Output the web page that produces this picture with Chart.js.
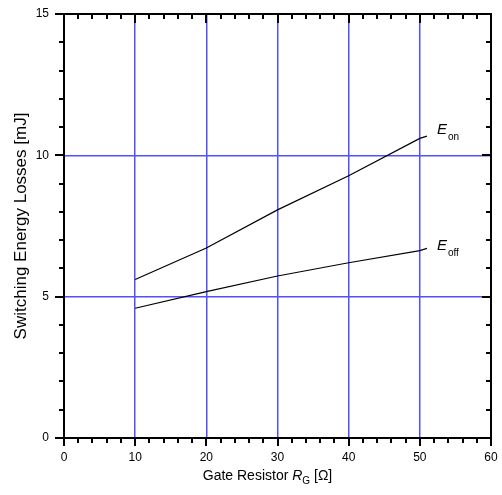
<!DOCTYPE html>
<html>
<head>
<meta charset="utf-8">
<script src="https://cdn.jsdelivr.net/npm/chart.js@4"></script>
<style>
  body { margin: 0; background: #fff; }
  #wrap { width: 502px; height: 495px; }
</style>
</head>
<body>
<div id="wrap"><canvas id="lossChart"></canvas></div>
<script>
// Data
const gateResistor = [10, 20, 30, 40, 50, 51];
const energyOn = [5.61, 6.72, 8.07, 9.28, 10.6, 10.68];
const energyOff = [4.59, 5.18, 5.73, 6.20, 6.63, 6.71];

// Axis ranges and tick spacing
const xTicks = [0, 10, 20, 30, 40, 50, 60];
const yTicks = [0, 5, 10, 15];
const xMinorStep = 2;
const yMinorStep = 1;

const FONT = '"Liberation Sans", Arial, Helvetica, sans-serif';
const GRID_BLUE = 'rgb(80, 80, 255)';

function toPoints(xs, ys) {
    return xs.map((x, i) => ({ x: x, y: ys[i] }));
}

// Frame, inner/outer tick marks, axis titles and curve labels
const decorPlugin = {
    id: 'decor',
    afterDraw(chart) {
        const ctx = chart.ctx;
        const area = chart.chartArea;
        const xs = chart.scales.x;
        const ys = chart.scales.y;
        ctx.save();
        ctx.strokeStyle = '#000';
        ctx.lineWidth = 2;

        // tick marks: bottom/left point out, top/right point in
        const xMin = xTicks[0], xMax = xTicks[xTicks.length - 1];
        const nx = Math.round((xMax - xMin) / xMinorStep);
        for (let i = 0; i <= nx; i++) {
            const v = xMin + i * xMinorStep;
            const px = Math.round(xs.getPixelForValue(v));
            const major = xTicks.includes(v);
            ctx.beginPath();
            ctx.moveTo(px, area.bottom);
            ctx.lineTo(px, area.bottom + (major ? 8 : 5));
            ctx.moveTo(px, area.top);
            ctx.lineTo(px, area.top + (major ? 9 : 5));
            ctx.stroke();
        }
        const yMin = yTicks[0], yMax = yTicks[yTicks.length - 1];
        const ny = Math.round((yMax - yMin) / yMinorStep);
        for (let i = 0; i <= ny; i++) {
            const v = yMin + i * yMinorStep;
            const py = Math.round(ys.getPixelForValue(v));
            const major = yTicks.includes(v);
            ctx.beginPath();
            ctx.moveTo(area.left, py);
            ctx.lineTo(area.left - (major ? 9 : 5), py);
            ctx.moveTo(area.right, py);
            ctx.lineTo(area.right - (major ? 9 : 5), py);
            ctx.stroke();
        }

        // box around the plot
        ctx.strokeRect(area.left, area.top, area.right - area.left, area.bottom - area.top);

        // y axis title
        ctx.fillStyle = '#000';
        ctx.font = '17px ' + FONT;
        ctx.textAlign = 'center';
        ctx.textBaseline = 'middle';
        ctx.save();
        ctx.translate(21, (area.top + area.bottom) / 2);
        ctx.rotate(-Math.PI / 2);
        ctx.fillText('Switching Energy Losses [mJ]', 0, 0);
        ctx.restore();

        // x axis title with italic R and subscript G
        const parts = [
            { t: 'Gate Resistor ', f: '14px ' + FONT, dy: 0 },
            { t: 'R', f: 'italic 14px ' + FONT, dy: 0 },
            { t: 'G', f: '10px ' + FONT, dy: 4 },
            { t: ' [Ω]', f: '14px ' + FONT, dy: 0 }
        ];
        let total = 0;
        parts.forEach(p => { ctx.font = p.f; p.w = ctx.measureText(p.t).width; total += p.w; });
        let tx = (area.left + area.right) / 2 - 10 - total / 2;
        ctx.textAlign = 'left';
        ctx.textBaseline = 'alphabetic';
        parts.forEach(p => {
            ctx.font = p.f;
            ctx.fillText(p.t, tx, 480 + p.dy);
            tx += p.w;
        });

        // curve labels next to the line ends
        const labels = [
            { sub: 'on', ds: 0 },
            { sub: 'off', ds: 1 }
        ];
        labels.forEach(l => {
            const pts = chart.getDatasetMeta(l.ds).data;
            const end = pts[pts.length - 1];
            const lx = end.x + 10;
            const ly = end.y + (l.ds === 0 ? -2 : 2);
            ctx.font = 'italic 15px ' + FONT;
            ctx.fillText('E', lx, ly);
            ctx.font = '10px ' + FONT;
            ctx.fillText(l.sub, lx + 11, ly + 6);
        });
        ctx.restore();
    }
};

var ctx = document.getElementById('lossChart').getContext('2d');
var chart = new Chart(ctx, {
    type: 'line',
    data: {
        datasets: [
            {
                label: 'Eon',
                data: toPoints(gateResistor, energyOn),
                borderColor: '#000',
                borderWidth: 1.2,
                pointRadius: 0,
                tension: 0
            },
            {
                label: 'Eoff',
                data: toPoints(gateResistor, energyOff),
                borderColor: '#000',
                borderWidth: 1.2,
                pointRadius: 0,
                tension: 0
            }
        ]
    },
    options: {
        responsive: true,
        maintainAspectRatio: false,
        animation: false,
        devicePixelRatio: 1,
        layout: { padding: { top: 14, right: 11, left: 0, bottom: 0 } },
        plugins: {
            legend: { display: false },
            tooltip: { enabled: false }
        },
        scales: {
            x: {
                type: 'linear',
                min: xTicks[0],
                max: xTicks[xTicks.length - 1],
                afterBuildTicks: s => { s.ticks = xTicks.map(v => ({ value: v })); },
                afterFit: s => {
                    s.height = 57;
                    s.paddingLeft = 0;
                    s.paddingRight = 0;
                },
                ticks: {
                    color: '#000',
                    font: { family: FONT, size: 12 },
                    padding: 12,
                    maxRotation: 0
                },
                grid: {
                    drawTicks: false,
                    color: c => (c.tick && c.tick.value > xTicks[0] && c.tick.value < xTicks[xTicks.length - 1]) ? GRID_BLUE : 'rgba(0,0,0,0)',
                    lineWidth: 1.5
                },
                border: { display: false }
            },
            y: {
                min: yTicks[0],
                max: yTicks[yTicks.length - 1],
                afterBuildTicks: s => { s.ticks = yTicks.map(v => ({ value: v })); },
                afterFit: s => {
                    s.width = 64;
                    s.paddingTop = 0;
                    s.paddingBottom = 0;
                },
                ticks: {
                    color: '#000',
                    font: { family: FONT, size: 12 },
                    padding: 15
                },
                grid: {
                    drawTicks: false,
                    color: c => (c.tick && c.tick.value > yTicks[0] && c.tick.value < yTicks[yTicks.length - 1]) ? GRID_BLUE : 'rgba(0,0,0,0)',
                    lineWidth: 1.5
                },
                border: { display: false }
            }
        }
    },
    plugins: [decorPlugin]
});
</script>
</body>
</html>
